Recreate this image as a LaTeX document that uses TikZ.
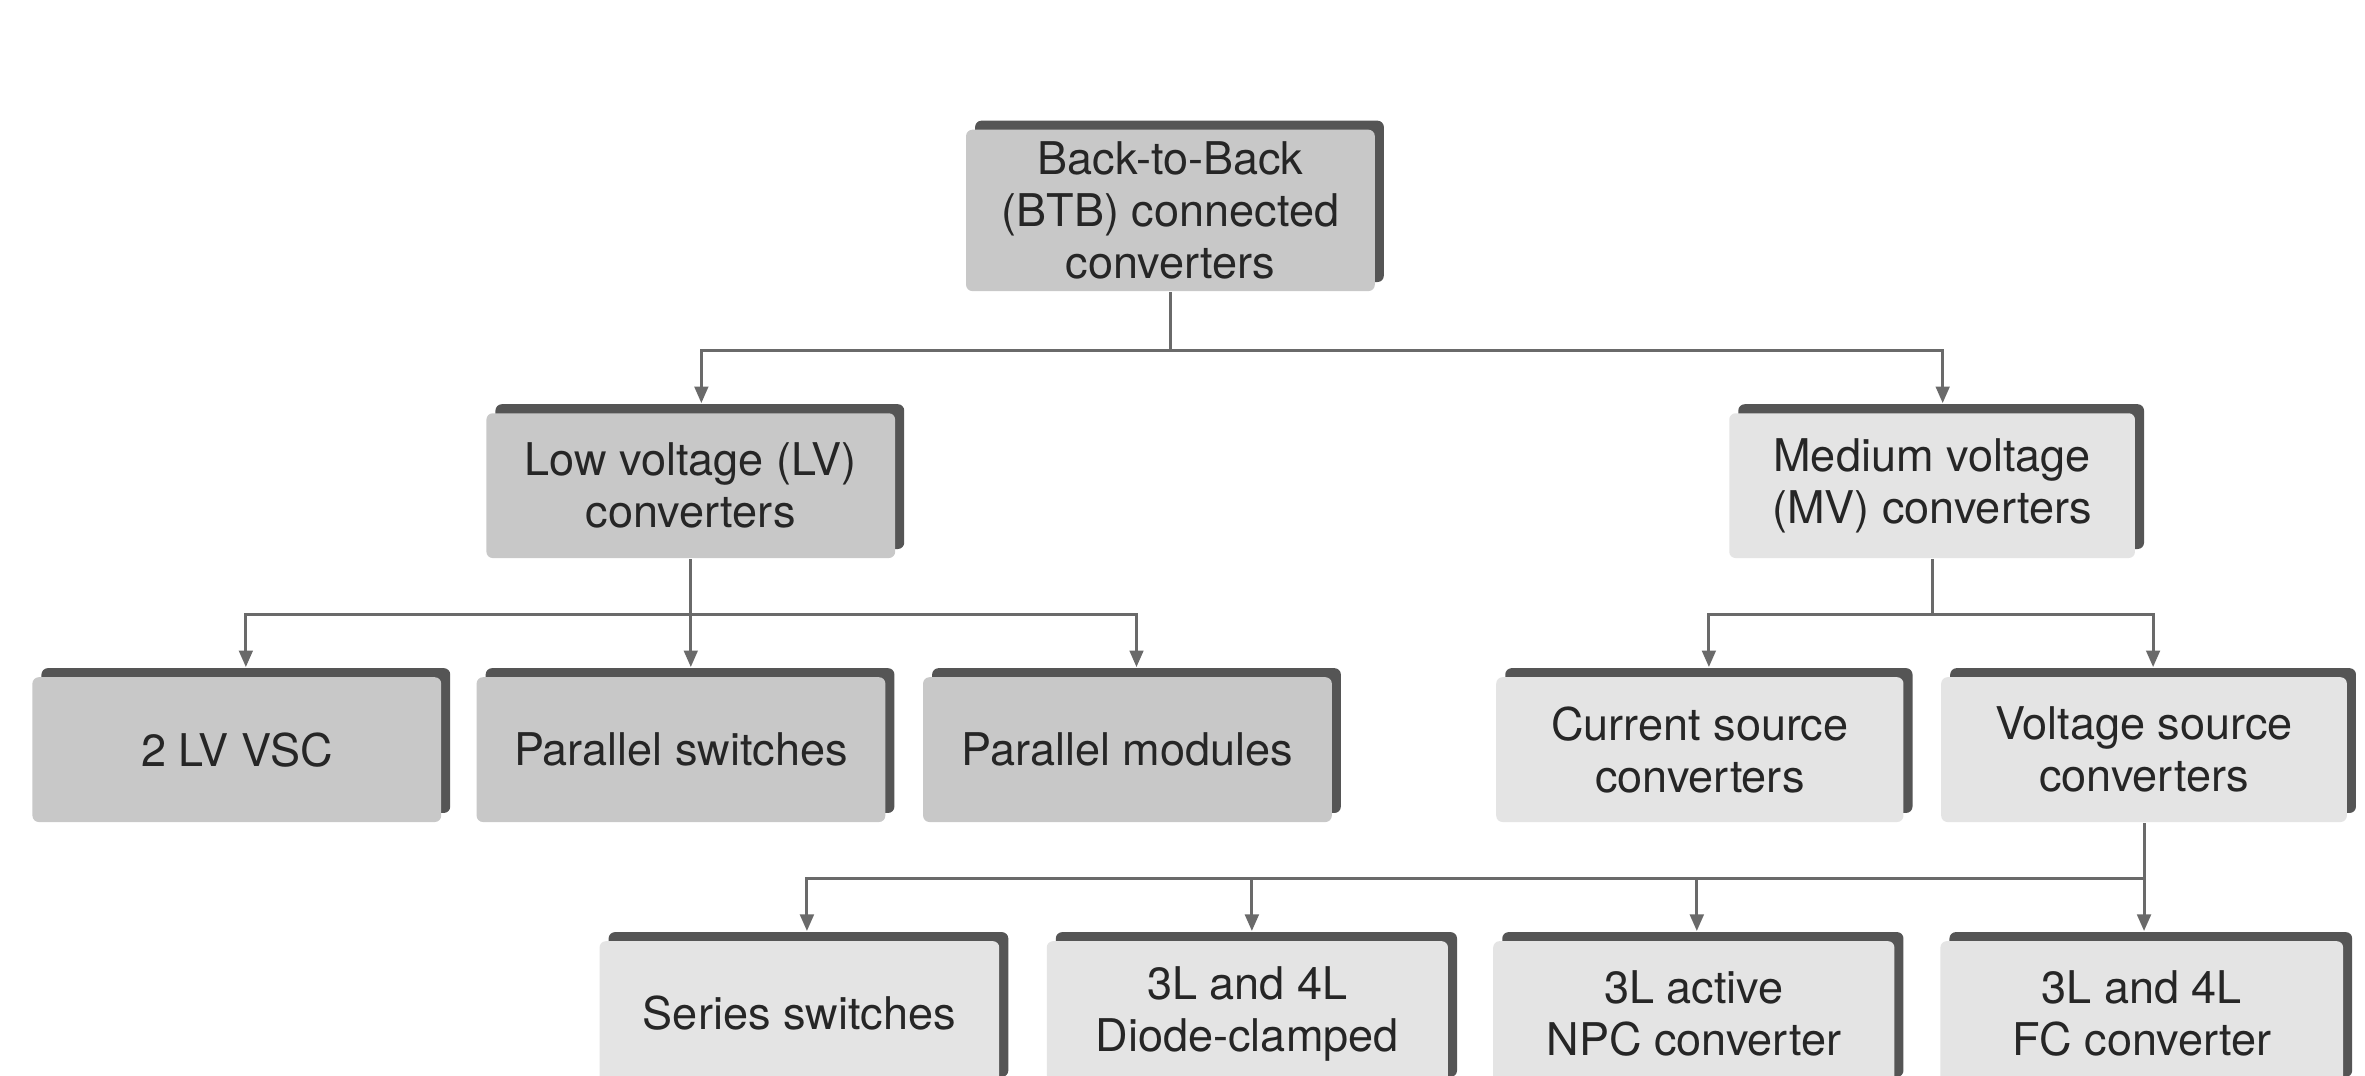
\documentclass[tikz,border=0pt]{standalone}
\usepackage{fontspec}
\setmainfont{TeX Gyre Heros}
\usetikzlibrary{shadows,arrows.meta,calc}
\definecolor{boxdark}{HTML}{C8C8C8}
\definecolor{boxlight}{HTML}{E4E4E4}
\definecolor{shad}{HTML}{555555}
\definecolor{linec}{HTML}{6A6A6A}
\definecolor{txt}{HTML}{262626}
\begin{document}
\begin{tikzpicture}[x=0.1mm,y=-0.1mm,
  box/.style={rectangle, rounded corners=1.2pt, minimum width=27.1mm, minimum height=9.6mm,
    inner sep=0pt, align=center, text=txt, font=\fontsize{8.5}{9.8}\selectfont,
    general shadow={fill=shad, shadow xshift=0.6mm, shadow yshift=0.6mm}},
  dk/.style={box, fill=boxdark},
  lt/.style={box, fill=boxlight},
  conn/.style={draw=linec, line width=0.2mm},
  arr/.style={conn, -{Triangle[length=1.1mm,width=0.9mm]}}]
\path[use as bounding box] (0,0) rectangle (1568,713);
\clip (0,0) rectangle (1568,713);
\fill[white] (0,0) rectangle (1568,713);

\node[dk, minimum height=10.7mm] (top) at (776,139.5) {Back-to-Back\\(BTB) connected\\converters};
\node[dk] (lv) at (458,322) {Low voltage (LV)\\converters};
\node[lt, minimum width=26.9mm] (mv) at (1281,322) {Medium voltage\\(MV) converters};
\node[dk] (v2) at (157,497) {2 LV VSC};
\node[dk] (ps) at (451.5,497) {Parallel switches};
\node[dk] (pm) at (747.5,497) {Parallel modules};
\node[lt, minimum width=27mm] (cs) at (1127,497) {Current source\\converters};
\node[lt, minimum width=26.9mm] (vs) at (1421.5,497) {Voltage source\\converters};
\node[lt, minimum width=26.5mm] (ss) at (530,672) {Series switches};
\node[lt, minimum width=26.6mm] (dc) at (827,672) {3L and 4L\\Diode-clamped};
\node[lt, minimum width=26.6mm] (npc) at (1123,672) {3L active\\NPC converter};
\node[lt, minimum width=26.7mm] (fc) at (1420,672) {3L and 4L\\FC converter};

% top level
\coordinate (j0) at ($(top.south)+(0,39)$);
\draw[conn] (top.south) -- (j0);
\draw[arr] (j0) -| ($(lv.north)+(7,-6)$);
\draw[arr] (j0) -| ($(mv.north)+(7,-6)$);

% LV branch
\coordinate (j1) at ($(lv.south)+(0,37)$);
\coordinate (psin) at ($(ps.north)+(6,-6)$);
\draw[conn] (lv.south) -- (j1);
\draw[arr] (j1) -| ($(v2.north)+(6,-6)$);
\draw[arr] (j1) -- (j1 |- psin);
\draw[arr] (j1) -| ($(pm.north)+(6,-6)$);

% MV branch
\coordinate (j2) at ($(mv.south)+(0,37)$);
\draw[conn] (mv.south) -- (j2);
\draw[arr] (j2) -| ($(cs.north)+(6,-6)$);
\draw[arr] (j2) -| ($(vs.north)+(6,-6)$);

% VS branch
\coordinate (fctop) at ($(fc.north)+(0,-6)$);
\coordinate (j3) at ($(vs.south)+(0,37)$);
\draw[arr] (vs.south) -- (vs.south |- fctop);
\draw[arr] (j3) -| ($(ss.north)+(5,-6)$);
\draw[arr] (j3) -| ($(dc.north)+(3,-6)$);
\draw[arr] (j3) -| ($(npc.north)+(2,-6)$);
\end{tikzpicture}
\end{document}
